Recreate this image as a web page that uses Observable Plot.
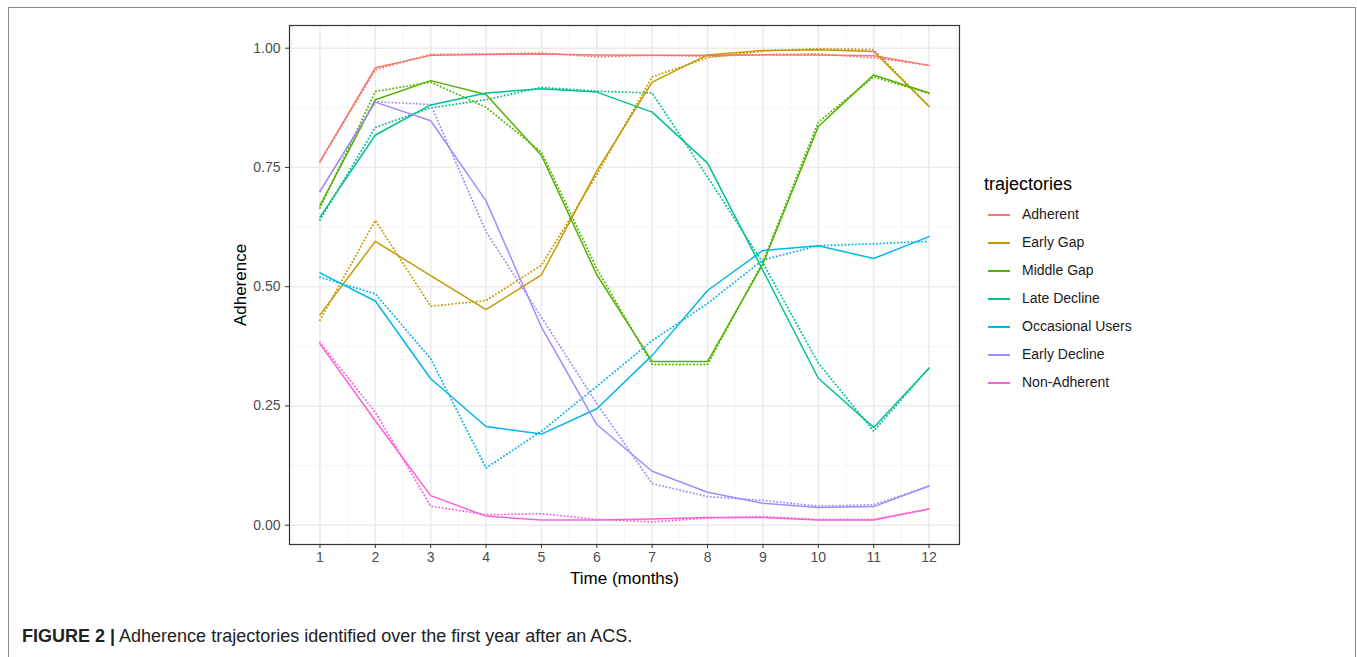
<!DOCTYPE html>
<html>
<head>
<meta charset="utf-8">
<script src="https://cdn.jsdelivr.net/npm/d3@7"></script>
<script src="https://cdn.jsdelivr.net/npm/@observablehq/plot@0.6"></script>
<style>
  html, body { margin:0; padding:0; background:#fff; overflow:hidden; }
  #wrap { position:relative; width:1357px; height:657px; overflow:hidden; font-family:"Liberation Sans", Arial, sans-serif; }
  #outer { position:absolute; left:8px; top:7px; width:1346px; height:700px; border:1.5px solid #8a8a8a; border-bottom:none; }
  #chart { position:absolute; left:0; top:0; }
  #legend { position:absolute; left:0; top:0; }
  .ltitle { position:absolute; left:984px; top:174px; font-size:18px; color:#000; white-space:nowrap; }
  .litem { position:absolute; left:988px; height:20px; white-space:nowrap; }
  .lkey { position:absolute; left:0; top:9px; width:22px; height:1.6px; }
  .llab { position:absolute; left:34px; top:1px; font-size:14px; color:#1a1a1a; }
  #caption { position:absolute; left:22px; top:626px; font-family:"Liberation Sans",Arial,sans-serif; font-size:18px; color:#222; white-space:nowrap; }
</style>
</head>
<body>
<div id="wrap">
  <div id="outer"></div>
  <div id="chart"></div>
  <div id="legend"></div>
  <div id="caption"><b>FIGURE 2 |</b> Adherence trajectories identified over the first year after an ACS.</div>
</div>
<script>
const months = [1,2,3,4,5,6,7,8,9,10,11,12];
const trajectories = ["Adherent","Early Gap","Middle Gap","Late Decline","Occasional Users","Early Decline","Non-Adherent"];
const colors = ["#F8766D","#C49A00","#53B400","#00C094","#00B6EB","#A58AFF","#FB61D7"];
const yTicks = [0, 0.25, 0.5, 0.75, 1];
const yMinor = [0.125, 0.375, 0.625, 0.875];
const xMinor = [0.5,1.5,2.5,3.5,4.5,5.5,6.5,7.5,8.5,9.5,10.5,11.5,12.5];

// Solid lines (fitted trajectories)
const adherentFit      = [0.762,0.959,0.985,0.987,0.988,0.986,0.985,0.985,0.986,0.986,0.984,0.964];
const earlyGapFit      = [0.441,0.595,0.523,0.452,0.525,0.743,0.929,0.986,0.995,0.997,0.993,0.878];
const middleGapFit     = [0.670,0.892,0.932,0.903,0.775,0.525,0.343,0.343,0.548,0.836,0.944,0.906];
const lateDeclineFit   = [0.646,0.818,0.881,0.906,0.915,0.908,0.866,0.759,0.534,0.308,0.205,0.329];
const occasionalFit    = [0.529,0.470,0.307,0.207,0.191,0.244,0.356,0.492,0.576,0.586,0.559,0.605];
const earlyDeclineFit  = [0.700,0.887,0.848,0.680,0.415,0.211,0.113,0.069,0.046,0.037,0.039,0.082];
const nonAdherentFit   = [0.380,0.219,0.062,0.019,0.011,0.011,0.013,0.016,0.016,0.011,0.011,0.034];

// Dotted lines (observed means)
const adherentObs      = [0.762,0.955,0.987,0.988,0.990,0.982,0.985,0.983,0.987,0.988,0.980,0.964];
const earlyGapObs      = [0.430,0.639,0.459,0.471,0.545,0.735,0.940,0.980,0.994,0.999,0.997,0.878];
const middleGapObs     = [0.665,0.909,0.929,0.876,0.782,0.538,0.337,0.337,0.552,0.845,0.940,0.905];
const lateDeclineObs   = [0.640,0.834,0.875,0.892,0.918,0.910,0.906,0.730,0.550,0.340,0.197,0.330];
const occasionalObs    = [0.520,0.485,0.349,0.120,0.197,0.291,0.387,0.465,0.556,0.586,0.590,0.595];
const earlyDeclineObs  = [0.700,0.888,0.882,0.615,0.436,0.255,0.087,0.060,0.052,0.040,0.043,0.082];
const nonAdherentObs   = [0.383,0.237,0.040,0.022,0.024,0.012,0.007,0.015,0.018,0.012,0.012,0.034];

const fitSeries = [adherentFit, earlyGapFit, middleGapFit, lateDeclineFit, occasionalFit, earlyDeclineFit, nonAdherentFit];
const obsSeries = [adherentObs, earlyGapObs, middleGapObs, lateDeclineObs, occasionalObs, earlyDeclineObs, nonAdherentObs];

const fitRows = [], obsRows = [];
trajectories.forEach((t, i) => {
  months.forEach((m, j) => {
    fitRows.push({trajectory: t, month: m, value: fitSeries[i][j]});
    obsRows.push({trajectory: t, month: m, value: obsSeries[i][j]});
  });
});

const chart = Plot.plot({
  width: 1357,
  height: 600,
  marginLeft: 289,
  marginRight: 398,
  marginTop: 25,
  marginBottom: 56,
  style: {fontFamily: "'Liberation Sans', Arial, sans-serif", fontSize: "14px", color: "#4D4D4D", background: "transparent"},
  x: {domain: [0.45, 12.55]},
  y: {domain: [-0.0405, 1.0476]},
  color: {domain: trajectories, range: colors},
  marks: [
    Plot.gridX(xMinor, {stroke: "#F2F2F2", strokeOpacity: 1, strokeWidth: 0.8}),
    Plot.gridY(yMinor, {stroke: "#F2F2F2", strokeOpacity: 1, strokeWidth: 0.8}),
    Plot.gridX(months, {stroke: "#EBEBEB", strokeOpacity: 1, strokeWidth: 1.6}),
    Plot.gridY(yTicks, {stroke: "#EBEBEB", strokeOpacity: 1, strokeWidth: 1.6}),
    Plot.lineY(obsRows, {x: "month", y: "value", z: "trajectory", stroke: "trajectory", strokeWidth: 1.9, strokeDasharray: "0.1,3.4", strokeLinecap: "round"}),
    Plot.lineY(fitRows, {x: "month", y: "value", z: "trajectory", stroke: "trajectory", strokeWidth: 1.5}),
    Plot.frame({stroke: "#333333", strokeWidth: 1.2}),
    Plot.axisX(months, {tickSize: 4, tickPadding: 4, stroke: "#333333", fill: "#4D4D4D", fontSize: 14, tickFormat: d => String(d), label: null}),
    Plot.axisY(yTicks, {tickSize: 4, tickPadding: 5, stroke: "#333333", fill: "#4D4D4D", fontSize: 14, tickFormat: d => d.toFixed(2), label: null}),
    Plot.text(["Time (months)"], {frameAnchor: "bottom", dy: 34, lineAnchor: "middle", textAnchor: "middle", fontSize: 17, fill: "#000"}),
    Plot.text(["Adherence"], {frameAnchor: "left", dx: -49, rotate: -90, lineAnchor: "middle", textAnchor: "middle", fontSize: 17, fill: "#000"})
  ]
});
document.getElementById("chart").appendChild(chart);

// Legend
const legend = document.getElementById("legend");
const t = document.createElement("div");
t.className = "ltitle";
t.textContent = "trajectories";
legend.appendChild(t);
trajectories.forEach((name, i) => {
  const item = document.createElement("div");
  item.className = "litem";
  item.style.top = (205 + i * 28) + "px";
  const key = document.createElement("div");
  key.className = "lkey";
  key.style.background = colors[i];
  const lab = document.createElement("div");
  lab.className = "llab";
  lab.textContent = name;
  item.appendChild(key);
  item.appendChild(lab);
  legend.appendChild(item);
});
</script>
</body>
</html>
